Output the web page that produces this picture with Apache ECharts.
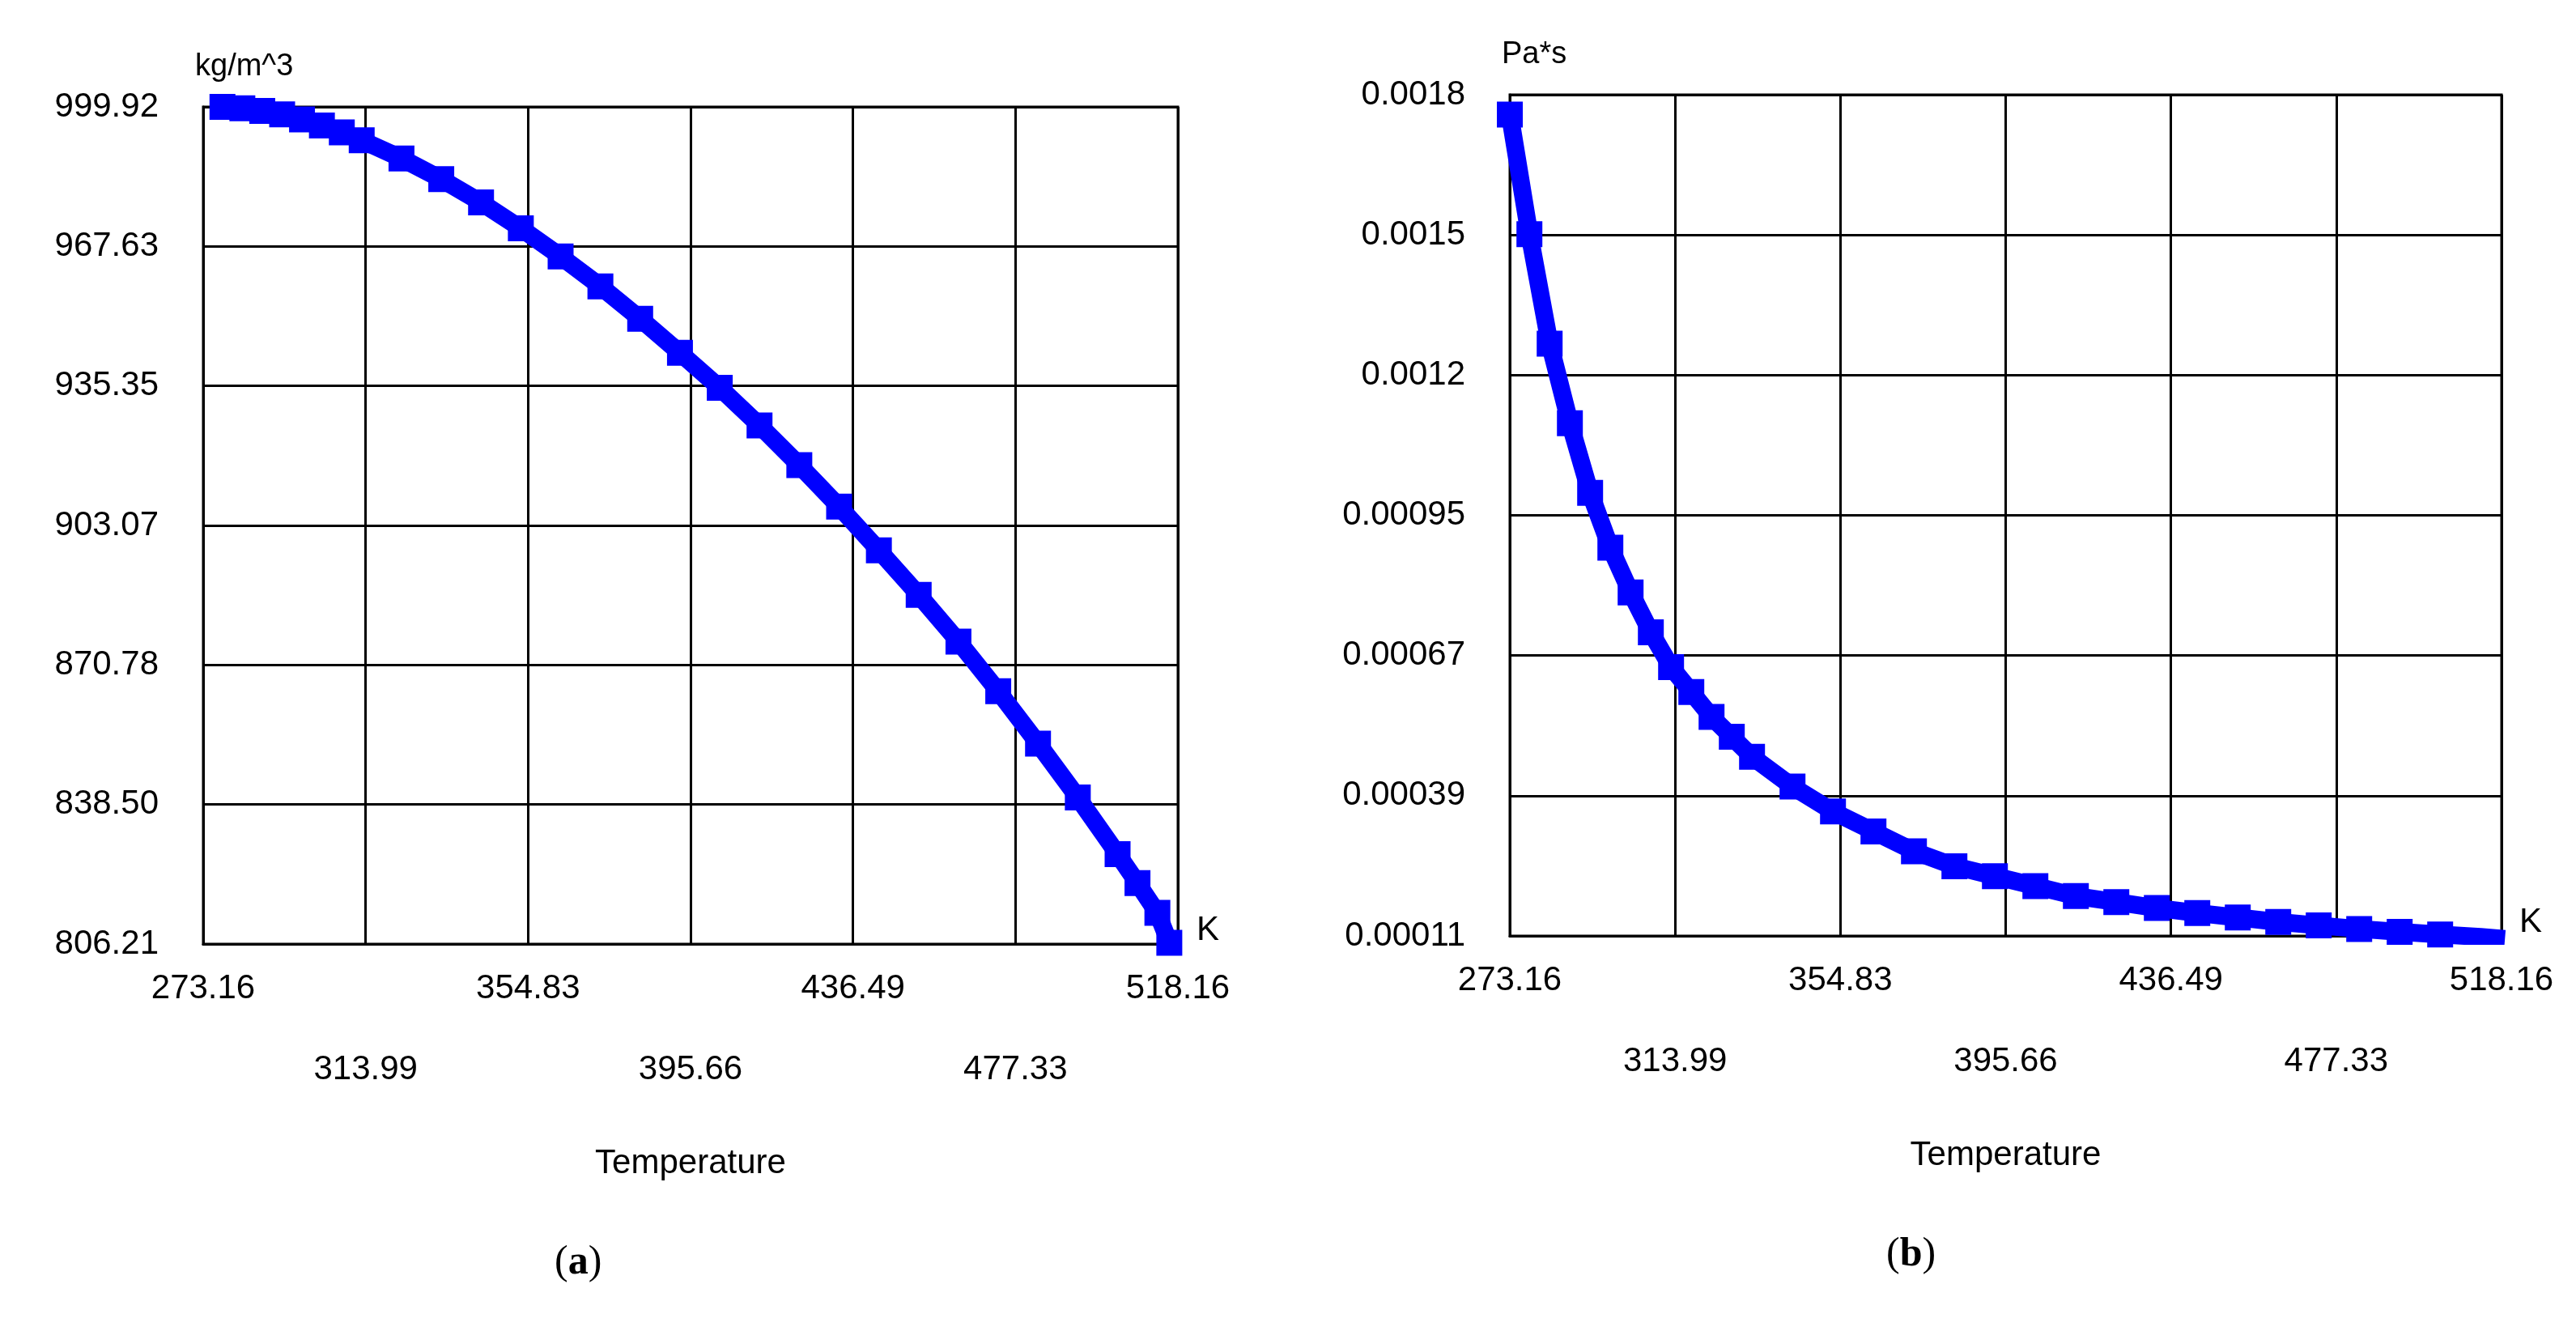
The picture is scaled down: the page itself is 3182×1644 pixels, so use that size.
<!DOCTYPE html>
<html>
<head>
<meta charset="utf-8">
<script src="https://cdn.jsdelivr.net/npm/echarts@6/dist/echarts.min.js"></script>
<style>html,body{margin:0;padding:0;background:#fff}#c{width:3182px;height:1644px}</style>
</head>
<body>
<div id="c"></div>
<script>
// temperature ticks (K)
const xTicks = ['273.16', '313.99', '354.83', '395.66', '436.49', '477.33', '518.16'];
const densityTicks = ['806.21', '838.50', '870.78', '903.07', '935.35', '967.63', '999.92'];
const viscTicks = ['0.00011', '0.00039', '0.00067', '0.00095', '0.0012', '0.0015', '0.0018'];

// density (kg/m^3)
const densityT = [278, 283, 288, 293, 298, 303, 308, 313, 323, 333, 343, 353, 363, 373, 383, 393, 403, 413, 423, 433, 443, 453, 463, 473, 483, 493, 503, 508, 513, 516];
const densityV = [999.9, 999.6, 999.0, 998.2, 997.0, 995.6, 994.0, 992.2, 988.0, 983.2, 977.8, 971.8, 965.3, 958.4, 950.9, 943.0, 934.9, 926.2, 917.0, 907.4, 897.3, 887.0, 876.2, 864.7, 852.6, 840.1, 827.0, 820.3, 813.4, 806.5];

// viscosity (Pa*s)
const viscT = [273.16, 278, 283, 288, 293, 298, 303, 308, 313, 318, 323, 328, 333, 343, 353, 363, 373, 383, 393, 403, 413, 423, 433, 443, 453, 463, 473, 483, 493, 503, 513, 519];
const viscV = [0.00176, 0.00152, 0.00130, 0.00114, 0.00100, 0.00089, 0.00080, 0.00072, 0.00065, 0.00060, 0.00055, 0.00051, 0.00047, 0.00041, 0.00036, 0.00032, 0.00028, 0.00025, 0.00023, 0.00021, 0.00019, 0.000178, 0.000166, 0.000156, 0.000147, 0.000138, 0.000131, 0.000124, 0.000118, 0.000113, 0.000108, 0.000104];

const font = 'Liberation Sans';
const xMin = 273.16, xMax = 518.16;

function xAxisFor(gi) {
    return {
        type: 'value', gridIndex: gi, min: xMin, max: xMax, interval: (xMax - xMin) / 6,
        name: 'Temperature', nameLocation: 'middle', nameGap: 250,
        nameTextStyle: {color: '#000', fontSize: 42, fontFamily: font},
        axisLine: {show: true, lineStyle: {color: '#000', width: 3}},
        axisTick: {show: false},
        splitLine: {show: true, lineStyle: {color: '#000', width: 3}},
        axisLabel: {
            color: '#000', fontSize: 42, fontFamily: font, margin: 30, lineHeight: 50,
            formatter: (v, i) => i % 2 ? '\n\n' + xTicks[i] : xTicks[i]
        }
    };
}

function yAxisFor(gi, min, max, labels, unit) {
    return {
        type: 'value', gridIndex: gi, min: min, max: max, interval: (max - min) / 6,
        name: unit, nameLocation: 'end', nameGap: 30,
        nameTextStyle: {color: '#000', fontSize: 38, fontFamily: font, align: 'left', padding: [0, 0, 0, -10]},
        axisLine: {show: true, lineStyle: {color: '#000', width: 3}},
        axisTick: {show: false},
        splitLine: {show: true, lineStyle: {color: '#000', width: 3}},
        axisLabel: {color: '#000', fontSize: 42, fontFamily: font, margin: 55,
            formatter: (v, i) => labels[i]}
    };
}

function seriesFor(gi, xs, ys) {
    return {
        type: 'line', xAxisIndex: gi, yAxisIndex: gi,
        data: xs.map((t, i) => [t, ys[i]]),
        symbol: 'rect', symbolSize: 32, showAllSymbol: true,
        lineStyle: {color: '#0000ff', width: 22},
        itemStyle: {color: '#0000ff'}
    };
}

let chart = echarts.init(document.getElementById('c'));
chart.setOption({
    backgroundColor: '#fff',
    animation: false,
    grid: [
        {left: 251, top: 132, width: 1204, height: 1034, show: true, borderColor: '#000', borderWidth: 3},
        {left: 1865, top: 117, width: 1225, height: 1039, show: true, borderColor: '#000', borderWidth: 3}
    ],
    xAxis: [xAxisFor(0), xAxisFor(1)],
    yAxis: [
        yAxisFor(0, 806.21, 999.92, densityTicks, 'kg/m^3'),
        yAxisFor(1, 0.00011, 0.0018, viscTicks, 'Pa*s')
    ],
    series: [seriesFor(0, densityT, densityV), seriesFor(1, viscT, viscV)],
    graphic: [
        {type: 'text', left: 1478, top: 1128, style: {text: 'K', fontSize: 42, fontFamily: font, fill: '#000'}},
        {type: 'text', left: 3112, top: 1118, style: {text: 'K', fontSize: 42, fontFamily: font, fill: '#000'}},
        {type: 'text', left: 685, top: 1535, style: {text: '({b|a})', fontSize: 50, fontFamily: 'Liberation Serif', fill: '#000',
            rich: {b: {fontSize: 50, fontFamily: 'Liberation Serif', fontWeight: 'bold'}}}},
        {type: 'text', left: 2330, top: 1525, style: {text: '({b|b})', fontSize: 50, fontFamily: 'Liberation Serif', fill: '#000',
            rich: {b: {fontSize: 50, fontFamily: 'Liberation Serif', fontWeight: 'bold'}}}}
    ]
});
</script>
</body>
</html>
